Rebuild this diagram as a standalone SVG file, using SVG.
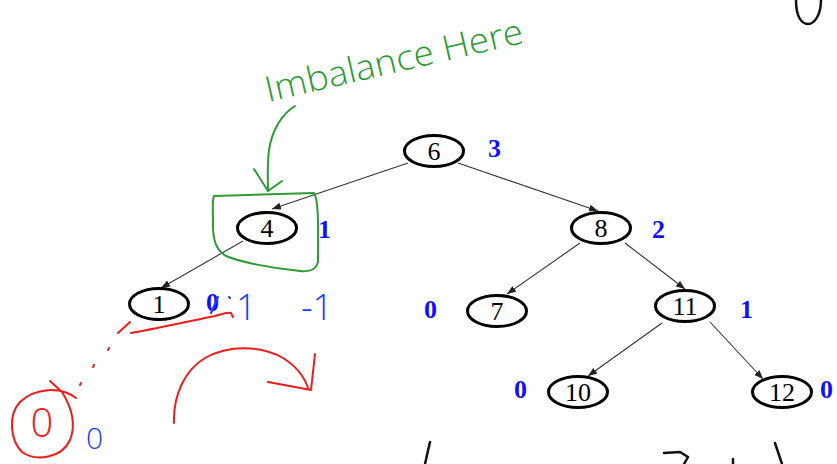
<svg xmlns="http://www.w3.org/2000/svg" width="837" height="464" viewBox="0 0 837 464">
<style>
.node ellipse{fill:#fff;stroke:#000;stroke-width:3}
.node text{font-family:"Liberation Serif",serif;font-size:26px;text-anchor:middle;fill:#000}
.bf{font-family:"Liberation Serif",serif;font-size:26px;font-weight:bold;fill:#1010ff}
.edge{stroke:#333;stroke-width:1.1;fill:none;marker-end:url(#ah)}
.hw{fill:none;stroke-linecap:round;stroke-linejoin:round}
.red{stroke:#ee1c1c;stroke-width:2}
.grn{stroke:#2e9a35;stroke-width:2}
.blu{stroke:#1a3cff;stroke-width:2}
.blk{stroke:#111;stroke-width:2.5}
.hwt{font-family:"Open Sans","DejaVu Sans",sans-serif;font-weight:300}
</style>
<defs>
<marker id="ah" markerWidth="9" markerHeight="7" refX="9" refY="3.5" orient="auto" markerUnits="userSpaceOnUse">
<path d="M0,0 L9,3.5 L0,7 z" fill="#222"/>
</marker>
</defs>
<rect width="837" height="464" fill="#fff"/>

<g id="connectors">
<path class="edge" d="M408,163 L272,209"/>
<path class="edge" d="M458,163 L598,211"/>
<path class="edge" d="M243,241 L161,288"/>
<path class="edge" d="M580,243 L507,294"/>
<path class="edge" d="M625,243 L685,289"/>
<path class="edge" d="M662,323 L588,376"/>
<path class="edge" d="M710,322 L763,379"/>
</g>

<g id="node-6" class="node"><ellipse cx="434" cy="151" rx="29.5" ry="15.5"/><text x="434" y="160">6</text></g>
<g id="node-4" class="node"><ellipse cx="267" cy="228" rx="29.5" ry="15.5"/><text x="267" y="237">4</text></g>
<g id="node-8" class="node"><ellipse cx="601" cy="228" rx="29.5" ry="15.5"/><text x="601" y="237">8</text></g>
<g id="node-1" class="node"><ellipse cx="159" cy="304" rx="29.5" ry="15.5"/><text x="159" y="313">1</text></g>
<g id="node-7" class="node"><ellipse cx="497" cy="311" rx="29.5" ry="15.5"/><text x="497" y="320">7</text></g>
<g id="node-11" class="node"><ellipse cx="685" cy="306" rx="29.5" ry="15.5"/><text x="685" y="315">11</text></g>
<g id="node-10" class="node"><ellipse cx="578" cy="392" rx="29.5" ry="15.5"/><text x="578" y="401">10</text></g>
<g id="node-12" class="node"><ellipse cx="782" cy="392" rx="29.5" ry="15.5"/><text x="782" y="401">12</text></g>

<g id="balance-factors">
<text class="bf" x="488" y="157">3</text>
<text class="bf" x="652" y="238">2</text>
<text class="bf" x="318" y="238">1</text>
<text class="bf" x="206" y="311">0</text>
<text class="bf" x="424" y="318">0</text>
<text class="bf" x="740" y="318">1</text>
<text class="bf" x="514" y="398">0</text>
<text class="bf" x="820" y="398">0</text>
</g>

<g id="annotation-imbalance">
<text class="hwt" x="268" y="102" font-size="35" fill="#2e9a35" textLength="264" lengthAdjust="spacingAndGlyphs" transform="rotate(-13 268 102)">Imbalance Here</text>
<path class="hw grn" d="M295,106 C282,114 272,130 269,150 C267,165 268,180 268,191"/>
<path class="hw grn" d="M254,169 L268,191 L282,181"/>
<path class="hw grn" d="M214,196 C250,195 285,194 314,193 C319,200 318,230 318,262 C316,270 310,272 300,271 C270,268 240,262 226,256 C216,250 213,240 213,225 C213,212 212,200 214,196 Z"/>
</g>

<g id="annotation-rotation">
<path class="hw red" d="M118,333 L130,322"/>
<path class="hw red" d="M108,350 L109,348 M93,367 L94,365 M80,385 L81,383"/>
<path class="hw red" d="M131,333 C160,328 195,320 215,316 C222,314 228,312 231,313 L233,317"/>
<path class="hw red" d="M76,398 C60,386 35,388 20,402 C8,415 10,440 22,452 C36,462 62,458 70,440 C76,425 72,408 62,392 L50,381"/>
<text class="hwt" x="42" y="437" font-size="40" fill="#ee1c1c" text-anchor="middle">0</text>
<path class="hw red" d="M174,423 C173,395 185,370 205,358 C228,345 260,345 283,358 C296,366 304,376 308,388"/>
<path class="hw red" d="M315,354 L311,390 L268,382"/>
</g>

<g id="annotation-blue">
<path class="hw blu" d="M218,297 L211,313 M229,297 L230,298"/>
<text class="hwt" x="236" y="320" font-size="36" font-weight="400" fill="#1a3cff">1</text>
<text class="hwt" x="301" y="320" font-size="36" font-weight="400" fill="#1a3cff">-1</text>
<text class="hwt" x="86" y="449" font-size="30" font-weight="400" fill="#1a3cff">0</text>
</g>

<g id="cut-off-ink">
<path class="hw blk" d="M796,0 C796,16 801,24 808,24 C815,24 821,14 821,0"/>
<path class="hw blk" d="M430,442 L425,464"/>
<path class="hw blk" d="M664,453 L680,452 L688,457 L684,464"/>
<path class="hw blk" d="M733,459 L733,464"/>
<path class="hw blk" d="M775,443 L782,464"/>
</g>
</svg>
